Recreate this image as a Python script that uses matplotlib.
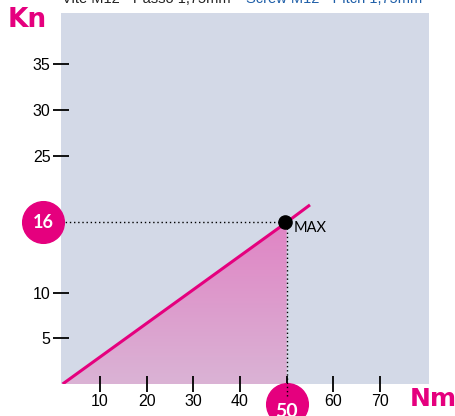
import numpy as np
import matplotlib.pyplot as plt
from matplotlib.patches import Polygon
from matplotlib.colors import LinearSegmentedColormap

# data
torque = [2, 50, 55]          # Nm
force = [0, 17.7, 19.6]       # Kn (as drawn, schematic)
max_torque = 50
max_force = 17.7
max_label = "16"
x_ticks = [10, 20, 30, 40, 50, 60, 70]
x_tick_labels = ["10", "20", "30", "40", "", "60", "70"]
y_ticks = [5, 10, 25, 30, 35]

magenta = "#e5007e"
bg = "#d3d9e7"
sans = ["Liberation Sans", "DejaVu Sans"]

fig = plt.figure(figsize=(4.56, 4.16), dpi=100)
ax = fig.add_axes([61 / 456, 32 / 416, 368 / 456, 371 / 416])
ax.set_facecolor(bg)
ax.set_xlim(1.65, 80.5)
ax.set_ylim(0, 40.6)
for s in ax.spines.values():
    s.set_visible(False)

# gradient fill under the line up to the max
xs = [torque[0], max_torque, max_torque]
ys = [force[0], max_force, 0]
poly = Polygon(list(zip(xs, ys)), closed=True, facecolor="none", edgecolor="none")
ax.add_patch(poly)
grad = np.linspace(0, 1, 256).reshape(-1, 1)
cmap = LinearSegmentedColormap.from_list("g", ["#dab3d5", "#e084c4"])
im = ax.imshow(grad, cmap=cmap, origin="lower", aspect="auto",
               extent=[torque[0], max_torque, 0, max_force], zorder=1)
im.set_clip_path(poly)

ax.plot(torque, force, color=magenta, lw=2.2, zorder=3, solid_capstyle="butt")

# dotted guides
ax.plot([1.65, max_torque], [max_force, max_force], color="black", ls=(0, (1, 2)), lw=1, zorder=2)
ax.plot([max_torque, max_torque], [-1.3, max_force], color="black", ls=(0, (1, 2)), lw=1,
        zorder=6, clip_on=False)
ax.plot(max_torque - 0.3, max_force, "o", color="black", ms=9.5, zorder=5)
ax.text(max_torque + 1.6, max_force - 0.65, "MAX", fontsize=10.5, family="Lato",
        va="center", ha="left")

# circle labels
ax.plot(-2.2, max_force, "o", color=magenta, ms=30, clip_on=False, zorder=5)
ax.text(-2.2, max_force, max_label, color="white", fontsize=13, fontweight="bold",
        ha="center", va="center", family="Lato", clip_on=False, zorder=6)
ax.plot(max_torque, -2.2, "o", color=magenta, ms=30, clip_on=False, zorder=5)
ax.text(max_torque, -3.0, str(max_torque), color="white", fontsize=14, fontweight="bold",
        ha="center", va="center", family="Lato", clip_on=False, zorder=6)

ax.set_xticks(x_ticks)
ax.set_xticklabels(x_tick_labels, family=sans, fontsize=11.5)
ax.set_yticks(y_ticks)
ax.set_yticklabels([str(v) for v in y_ticks], family=sans, fontsize=11.5)
ax.tick_params(axis="x", direction="inout", length=11, width=1.3, pad=2)
ax.tick_params(axis="y", direction="inout", length=11, width=1.3, pad=2)

fig.text(8 / 456, 1 - 20 / 416, "Kn", color=magenta, fontsize=19, fontweight="bold",
         ha="left", va="center")
fig.text(410 / 456, 1 - 399 / 416, "Nm", color=magenta, fontsize=18, fontweight="bold",
         ha="left", va="center")

fig.text(62 / 456, 1 + 1 / 416, "Vite M12 - Passo 1,75mm", family=sans, fontsize=10.5,
         va="center", ha="left", color="#222222")
fig.text(246 / 456, 1 + 1 / 416, "Screw M12 - Pitch 1,75mm", family=sans, fontsize=10.5,
         va="center", ha="left", color="#1f5fa8")

fig.savefig("out.png", dpi=100)
